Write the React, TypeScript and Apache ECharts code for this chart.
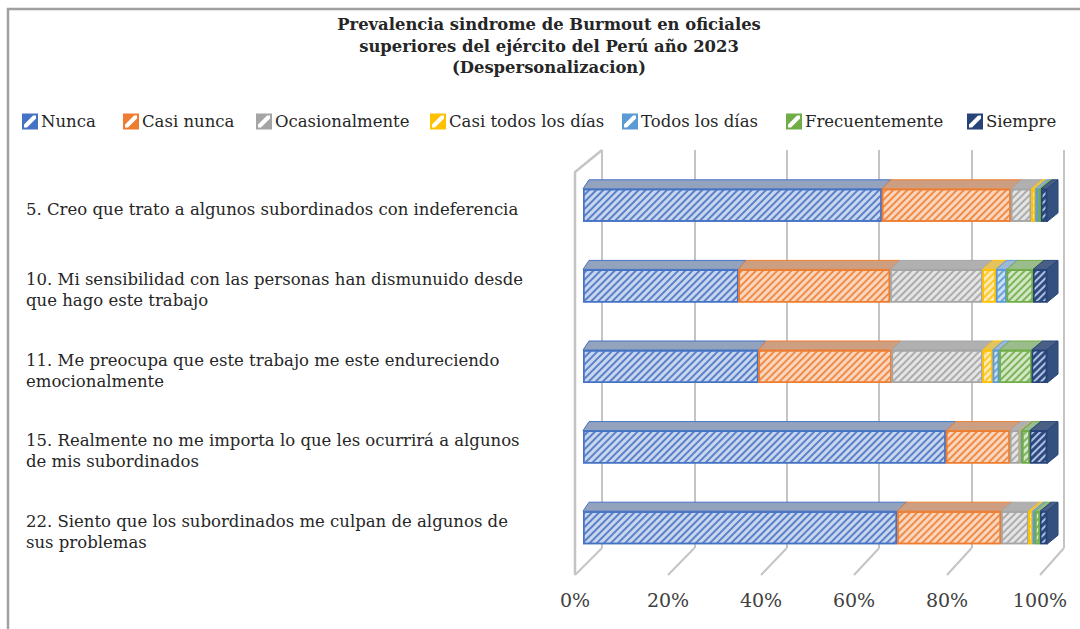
import React, { useEffect, useRef } from 'react';
import * as echarts from 'echarts';

const categories = [
  '5. Creo que trato a algunos subordinados con indeferencia',
  '10. Mi sensibilidad con las personas han dismunuido desde\nque hago este trabajo',
  '11. Me preocupa que este trabajo me este endureciendo\nemocionalmente',
  '15. Realmente no me importa lo que les ocurrirá a algunos\nde mis subordinados',
  '22. Siento que los subordinados me culpan de algunos de\nsus problemas',
];
const seriesNames = [
  'Nunca',
  'Casi nunca',
  'Ocasionalmente',
  'Casi todos los días',
  'Todos los días',
  'Frecuentemente',
  'Siempre',
];
const nunca = [64.4, 33.5, 37.8, 78.2, 67.7];
const casiNunca = [27.8, 32.7, 28.7, 13.8, 22.4];
const ocasionalmente = [4.4, 19.9, 19.6, 2.2, 5.9];
const casiTodos = [0.9, 2.9, 2.2, 0.2, 0.9];
const todos = [0.7, 2.3, 1.4, 0.2, 0.5];
const frecuentemente = [0.5, 5.7, 7.0, 1.7, 1.1];
const siempre = [1.3, 3.0, 3.3, 3.7, 1.5];
const seriesValues = [nunca, casiNunca, ocasionalmente, casiTodos, todos, frecuentemente, siempre];
const axisMin = 0;
const axisMax = 100;
const axisStep = 20;

const mainColors = ['#4472C4', '#ED7D31', '#A5A5A5', '#FFC000', '#5B9BD5', '#70AD47', '#264478'];
const paleColors = ['#c9d6ee', '#fad6bf', '#e4e4e4', '#ffeab0', '#cde0f2', '#d3e6c6', '#2c4a7e'];
const stripeColors = ['#5a82c9', '#ef8c48', '#acacac', '#ffc627', '#6aa3d8', '#7db55a', '#aebfe0'];
const topColors = ['#94a3bd', '#cc9f83', '#b0b0b0', '#e3c461', '#9cb8d6', '#9bbd8b', '#4a5f86'];
const legendLefts = [22, 123, 256, 430, 622, 786, 967];

const FONT = '"DejaVu Serif", "Liberation Serif", serif';
const BAR_W = 33;
const DX0 = 6;
const DXK = 5;
const DY = -9;

// grid geometry
const BAR_L = 583, BAR_W_PX = 464, BAR_T = 165, BAR_H = 403;
const FRONT_L = 575, FRONT_W = 465, FRONT_Y = 575;
const BACK_L = 602, BACK_W = 462, BACK_T = 150, BACK_Y = 548;

const ICON = 'path://M0,0H16V16H0Z M2,2V14H14V2Z M2,2H11L2,11Z M14,5V14H5Z';

export default function App() {
  const ref = useRef<HTMLDivElement>(null);
  useEffect(() => {
    if (!ref.current) return;
    const chart = echarts.init(ref.current, null, { renderer: 'svg' });

    const barSeries = seriesNames.map((name, s) => ({
      name,
      type: 'bar',
      stack: 'total',
      xAxisIndex: 0,
      yAxisIndex: 0,
      barWidth: BAR_W,
      data: seriesValues[s],
      itemStyle: {
        color: paleColors[s],
        borderColor: mainColors[s],
        borderWidth: 1.5,
        decal: {
          symbol: 'rect',
          symbolSize: 1,
          color: stripeColors[s],
          dashArrayX: [1, 0],
          dashArrayY: [1.3, 2.7],
          rotation: -Math.PI / 4,
        },
      },
      emphasis: { disabled: true },
      z: 2,
    }));

    const topData: number[][] = [];
    categories.forEach((_, i) => {
      let acc = 0;
      seriesValues.forEach((vals, s) => {
        const a = acc;
        acc += vals[i];
        topData.push([i, a, acc, s]);
      });
    });

    const topSeries = {
      type: 'custom',
      xAxisIndex: 0,
      yAxisIndex: 0,
      silent: true,
      z: 3,
      encode: { x: [1, 2], y: 0 },
      data: topData,
      renderItem: (params: any, api: any) => {
        const cat = api.value(0);
        const a = api.value(1);
        const b = api.value(2);
        const s = api.value(3);
        const p0 = api.coord([a, cat]);
        const p1 = api.coord([b, cat]);
        const yT = p0[1] - BAR_W / 2;
        const yB = p0[1] + BAR_W / 2;
        const dx0 = DX0 + (DXK * a) / 100;
        const dx1 = DX0 + (DXK * b) / 100;
        const children: any[] = [
          {
            type: 'polygon',
            shape: {
              points: [
                [p0[0], yT],
                [p1[0], yT],
                [p1[0] + dx1, yT + DY],
                [p0[0] + dx0, yT + DY],
              ],
            },
            style: { fill: topColors[s], stroke: mainColors[s], lineWidth: 1 },
          },
        ];
        if (s === seriesNames.length - 1) {
          children.push({
            type: 'polygon',
            shape: {
              points: [
                [p1[0], yT],
                [p1[0] + dx1, yT + DY],
                [p1[0] + dx1, yB + DY],
                [p1[0], yB],
              ],
            },
            style: { fill: '#34507f', stroke: mainColors[s], lineWidth: 1 },
          });
        }
        return { type: 'group', children };
      },
    };

    const legends = seriesNames.map((name, s) => ({
      left: legendLefts[s],
      top: 113,
      itemWidth: 16,
      itemHeight: 16,
      padding: 0,
      selectedMode: false,
      textStyle: { fontFamily: FONT, fontSize: 16.5, color: '#262626', padding: [0, 0, 0, -2] },
      data: [
        {
          name,
          icon: ICON,
          itemStyle: { color: mainColors[s], borderWidth: 0, decal: { symbol: 'none' } },
        },
      ],
    }));

    const graphics: any[] = [
      {
        type: 'rect',
        shape: { x: 8, y: 9, width: 1100, height: 700 },
        style: { fill: 'none', stroke: '#a0a0a0', lineWidth: 2.5 },
        silent: true,
      },
      {
        type: 'polyline',
        shape: {
          points: [
            [BACK_L, BACK_T],
            [FRONT_L, BACK_T + 22],
            [FRONT_L, FRONT_Y],
          ],
        },
        style: { fill: 'none', stroke: '#c4c4c4', lineWidth: 2.5 },
        silent: true,
        z: 0,
      },
    ];
    const nSteps = (axisMax - axisMin) / axisStep;
    for (let k = 0; k <= nSteps; k++) {
      const f = k / nSteps;
      graphics.push({
        type: 'line',
        shape: {
          x1: FRONT_L + f * FRONT_W,
          y1: FRONT_Y,
          x2: BACK_L + f * BACK_W,
          y2: BACK_Y,
        },
        style: { stroke: '#c4c4c4', lineWidth: 2 },
        silent: true,
        z: 0,
      });
    }

    const hiddenValueX = (gridIndex: number) => ({
      type: 'value',
      gridIndex,
      min: axisMin,
      max: axisMax,
      show: false,
    });

    chart.setOption({
      animation: false,
      backgroundColor: '#ffffff',
      title: {
        text:
          'Prevalencia sindrome de Burmout en oficiales\nsuperiores del ejército del Perú año 2023\n(Despersonalizacion)',
        left: 549,
        top: 14,
        textAlign: 'center',
        padding: 0,
        textStyle: {
          fontFamily: FONT,
          fontSize: 16.4,
          fontWeight: 'bold',
          lineHeight: 21.5,
          color: '#262626',
        },
      },
      legend: legends,
      graphic: graphics,
      grid: [
        { left: BAR_L, width: BAR_W_PX, top: BAR_T, height: BAR_H },
        { left: BAR_L, width: BAR_W_PX, top: BAR_T + 4, height: BAR_H },
        { left: FRONT_L, width: FRONT_W, top: BACK_T, height: 433 },
        { left: BACK_L, width: BACK_W, top: BACK_T, height: BACK_Y - BACK_T },
      ],
      xAxis: [
        hiddenValueX(0),
        hiddenValueX(1),
        {
          type: 'value',
          gridIndex: 2,
          min: axisMin,
          max: axisMax,
          interval: axisStep,
          axisLine: { show: false },
          axisTick: { show: false },
          splitLine: { show: false },
          axisLabel: {
            formatter: '{value}%',
            margin: 7,
            fontFamily: FONT,
            fontSize: 19,
            color: '#404040',
          },
        },
        {
          type: 'value',
          gridIndex: 3,
          min: axisMin,
          max: axisMax,
          interval: axisStep,
          axisLine: { show: false },
          axisTick: { show: false },
          axisLabel: { show: false },
          splitLine: { show: true, lineStyle: { color: '#c4c4c4', width: 2 } },
        },
      ],
      yAxis: [
        {
          type: 'category',
          gridIndex: 0,
          inverse: true,
          data: categories,
          show: false,
        },
        {
          type: 'category',
          gridIndex: 1,
          inverse: true,
          data: categories,
          axisLine: { show: false },
          axisTick: { show: false },
          axisLabel: {
            align: 'left',
            margin: BAR_L - 26,
            fontFamily: FONT,
            fontSize: 16.5,
            lineHeight: 21,
            color: '#262626',
          },
        },
        { type: 'value', gridIndex: 2, min: 0, max: 1, show: false },
        { type: 'value', gridIndex: 3, min: 0, max: 1, show: false },
      ],
      series: [...barSeries, topSeries],
    });

    return () => chart.dispose();
  }, []);

  return (
    <div
      ref={ref}
      style={{ position: 'fixed', left: 0, top: 0, width: 1080, height: 629 }}
    />
  );
}
